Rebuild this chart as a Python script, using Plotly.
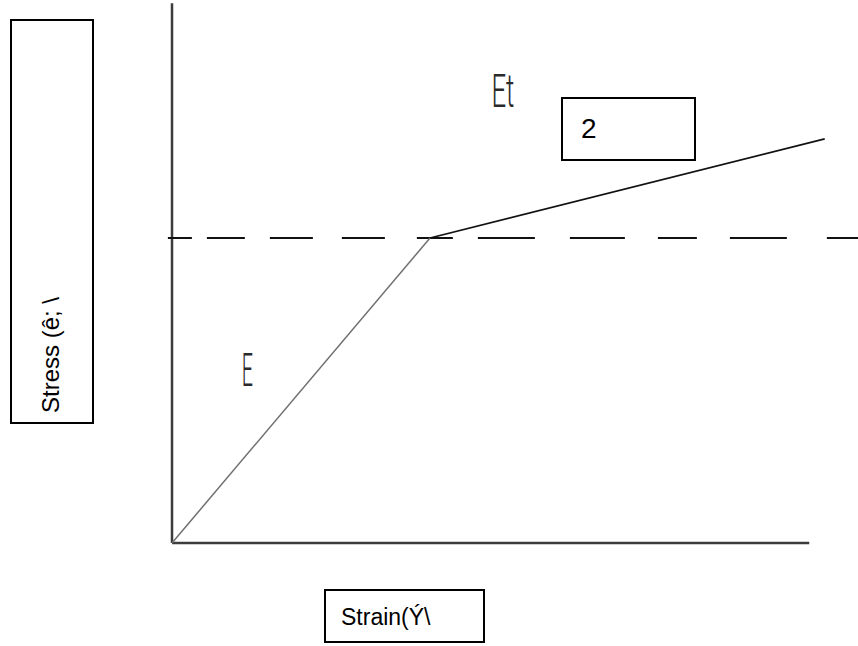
import plotly.graph_objects as go

# ---- data (strain / stress in normalised units; yield point = 1, 1) ----
strain_elastic = [0.0, 1.0]
stress_elastic = [0.0, 1.0]
strain_plastic = [1.0, 2.53]
stress_plastic = [1.0, 1.325]
yield_stress = 1.0
yield_line_strain = [-0.016, 2.70]
axis_strain_max = 2.47
axis_stress_max = 1.77

# ---- texts ----
label_y = "Stress (ê; \\"
label_x = "Strain(Ý\\"
label_box = "2"
label_E = "E"
label_Et = "Et"

W, H = 858, 646
X_RANGE = [-0.6667, 2.6589]
Y_RANGE = [-0.3377, 1.7803]


def px(x):
    return x / W


def py(y):
    return 1 - y / H


fig = go.Figure()

# axes drawn as lines
fig.add_trace(go.Scatter(x=[0, 0], y=[0, axis_stress_max], mode="lines",
                         line=dict(color="#3c3c3c", width=2.5), hoverinfo="skip"))
fig.add_trace(go.Scatter(x=[0, axis_strain_max], y=[0, 0], mode="lines",
                         line=dict(color="#3c3c3c", width=2.5), hoverinfo="skip"))
# yield stress dashed line (irregular hand-drawn dash pattern)
fig.add_trace(go.Scatter(x=yield_line_strain, y=[yield_stress, yield_stress], mode="lines",
                         line=dict(color="#111111", width=2,
                                   dash="24px,15px,38px,25px,43px,29px,43px,32px,36px,25px,57px,35px,"
                                        "55px,33px,39px,33px,57px,40px,60px"),
                         hoverinfo="skip"))
# elastic branch
fig.add_trace(go.Scatter(x=strain_elastic, y=stress_elastic, mode="lines",
                         line=dict(color="#707070", width=1.5), hoverinfo="skip"))
# plastic branch
fig.add_trace(go.Scatter(x=strain_plastic, y=stress_plastic, mode="lines",
                         line=dict(color="#111111", width=1.8), hoverinfo="skip"))

box_line = dict(color="black", width=2)
shapes = [
    dict(type="rect", xref="paper", yref="paper", x0=px(11), x1=px(93), y0=py(423), y1=py(20), line=box_line),
    dict(type="rect", xref="paper", yref="paper", x0=px(325), x1=px(484), y0=py(642), y1=py(590), line=box_line),
    dict(type="rect", xref="paper", yref="paper", x0=px(562), x1=px(695), y0=py(160), y1=py(98), line=box_line),
]

arial_y = dict(family="Liberation Sans, Arial, sans-serif", size=24, color="black")
arial_x = dict(family="Liberation Sans, Arial, sans-serif", size=23, color="black")
arial = dict(family="Liberation Sans, Arial, sans-serif", size=28, color="black")
thin = dict(family="Roboto, Liberation Sans, sans-serif", size=47, color="#2a2a2a", weight=300)

annotations = [
    dict(text=label_y, xref="paper", yref="paper", x=px(50), y=py(413), xanchor="center", yanchor="bottom",
         textangle=-90, showarrow=False, font=arial_y, borderpad=0, borderwidth=0),
    dict(text=label_x, xref="paper", yref="paper", x=px(341), y=py(617), xanchor="left", yanchor="middle",
         showarrow=False, font=arial_x, borderpad=0, borderwidth=0),
    dict(text=label_box, xref="paper", yref="paper", x=px(581), y=py(128), xanchor="left", yanchor="middle",
         showarrow=False, font=arial, borderpad=0, borderwidth=0),
    dict(text=label_E, xref="paper", yref="paper", x=px(247.5), y=py(369), xanchor="center", yanchor="middle",
         showarrow=False, font=thin, borderpad=0, borderwidth=0),
    dict(text=label_Et, xref="paper", yref="paper", x=px(503), y=py(91), xanchor="center", yanchor="middle",
         showarrow=False, font=thin, borderpad=0, borderwidth=0),
]

fig.update_layout(
    width=W, height=H,
    margin=dict(l=0, r=0, t=0, b=0),
    paper_bgcolor="white", plot_bgcolor="white",
    showlegend=False,
    xaxis=dict(range=X_RANGE, visible=False, fixedrange=True),
    yaxis=dict(range=Y_RANGE, visible=False, fixedrange=True),
    shapes=shapes,
    annotations=annotations,
)

post = """
document.body.style.margin = '0';
document.body.style.padding = '0';
document.body.style.overflow = 'hidden';
var gd = document.getElementById('{plot_id}');
function squeeze(){
  gd.querySelectorAll('text.annotation-text').forEach(function(t){
    var s = null;
    if (t.textContent === 'E') s = 0.42;
    if (t.textContent === 'Et') s = 0.55;
    if (s) {
      t.style.transformBox = 'fill-box';
      t.style.transformOrigin = 'center';
      t.style.transform = 'scaleX(' + s + ')';
    }
  });
}
squeeze();
gd.on('plotly_afterplot', squeeze);
"""

fig.write_html("out.html", post_script=post, config={"displayModeBar": False})
